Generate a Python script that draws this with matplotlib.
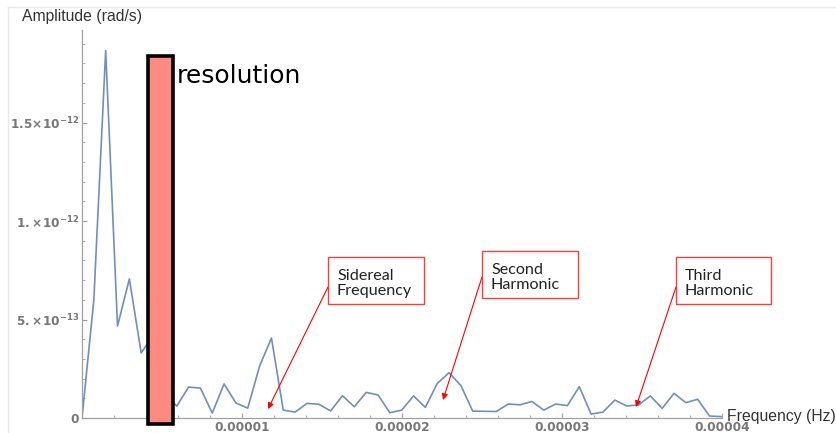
import numpy as np
import matplotlib
matplotlib.use("Agg")
import matplotlib.pyplot as plt
from matplotlib.patches import Rectangle
from matplotlib.ticker import MultipleLocator

# spectrum amplitude, units of 1e-13 rad/s, one value per frequency bin
df = 7.4e-7
amp = [0, 6.0, 18.66, 4.67, 7.06, 3.3, 4.2, 1.3, 0.6, 1.57,
       1.52, 0.25, 1.73, 0.76, 0.5, 2.64, 4.06, 0.4, 0.3, 0.74,
       0.7, 0.36, 1.13, 0.57, 1.3, 1.17, 0.27, 0.4, 1.12, 0.54,
       1.75, 2.3, 1.65, 0.35, 0.34, 0.33, 0.71, 0.67, 0.84, 0.4,
       0.71, 0.63, 1.59, 0.2, 0.3, 0.91, 0.61, 0.66, 1.12, 0.49,
       1.25, 0.78, 0.95, 0.1, 0.07]
freq = df * np.arange(len(amp))
amp = np.array(amp) * 1e-13

xticks = [1e-5, 2e-5, 3e-5, 4e-5]
xlabels = ["0.00001", "0.00002", "0.00003", "0.00004"]
yticks = [0, 5e-13, 1e-12, 1.5e-12]
ylabels = ["0", r"$\mathbf{5.\!\times\!10^{-13}}$", r"$\mathbf{1.\!\times\!10^{-12}}$",
           r"$\mathbf{1.5\!\times\!10^{-12}}$"]

notes = ["Sidereal\nFrequency", "Second\nHarmonic", "Third\nHarmonic"]

W, H = 837, 433
fig = plt.figure(figsize=(W / 100, H / 100), dpi=100)

def fp(x, y):
    # top-left pixel -> figure fraction
    return (x / W, 1 - y / H)

ax = fig.add_axes([82 / W, 15 / H, 640 / W, 388 / H])
ax.plot(freq, amp, color="#6f8fc0", lw=1.2, zorder=2)
ax.set_xlim(0, 4e-5)
ax.set_ylim(0, 19.7e-13)

for s in ["top", "right"]:
    ax.spines[s].set_visible(False)
for s in ["left", "bottom"]:
    ax.spines[s].set_color("#a0a0a0")
    ax.spines[s].set_linewidth(0.9)

ax.set_xticks(xticks, xlabels)
ax.set_yticks(yticks, ylabels)
ax.xaxis.set_minor_locator(MultipleLocator(2e-6))
ax.yaxis.set_minor_locator(MultipleLocator(1e-13))
ax.tick_params(which="both", direction="in", color="#a0a0a0", labelcolor="#777777")
ax.tick_params(which="major", length=3.5, width=0.8, labelsize=8.7, pad=2)
ax.tick_params(which="minor", length=2, width=0.6)
for t in ax.get_xticklabels() + ax.get_yticklabels():
    t.set_fontweight("bold")

fig.text(*fp(22, 17), "Amplitude (rad/s)", family="Liberation Sans", fontsize=11.3,
         color="#333333", va="center")
fig.text(*fp(727, 416), "Frequency (Hz)", family="Liberation Sans", fontsize=11.3,
         color="#333333", va="center")

# resolution bar
ax.add_patch(Rectangle((0.1036, -0.016), 0.038, 0.948, transform=ax.transAxes,
                       fc="#ff8a80", ec="black", lw=2.6, clip_on=False, zorder=5))
fig.text(*fp(177, 83), "resolution", fontsize=18, color="black", va="baseline")

# annotation boxes: (left, top, right, bottom) in pixels, arrow start/tip
boxes = [(328, 257, 424, 304), (482, 251, 578, 298), (676, 257, 771, 304)]
arrows = [((328, 287), (268, 409)), ((482, 277), (443, 400)), ((676, 287), (636, 407))]
for (l, t, r, b), txt, (a0, a1) in zip(boxes, notes, arrows):
    x0, y0 = fp(l, b)
    fig.add_artist(Rectangle((x0, y0), (r - l) / W, (b - t) / H, transform=fig.transFigure,
                             fc="white", ec="#ff3c3c", lw=1.0, zorder=6))
    fig.text(*fp(l + 9, (t + b) / 2 + 3), txt, family="Lato", fontsize=11.6, color="#222222",
             va="center", linespacing=1.15, zorder=7)
    ax.annotate("", xy=fp(*a1), xytext=fp(*a0), xycoords="figure fraction",
                textcoords="figure fraction",
                arrowprops=dict(arrowstyle="-|>", color="red", lw=0.8,
                                mutation_scale=9, shrinkA=0, shrinkB=0), zorder=6)

# faint screenshot frame
fig.add_artist(plt.Line2D([8 / W, 1], [1 - 7 / H] * 2, color="#e8e8e8", lw=1))
fig.add_artist(plt.Line2D([8 / W] * 2, [0, 1 - 7 / H], color="#e8e8e8", lw=1))

fig.savefig("out.png", dpi=100)
